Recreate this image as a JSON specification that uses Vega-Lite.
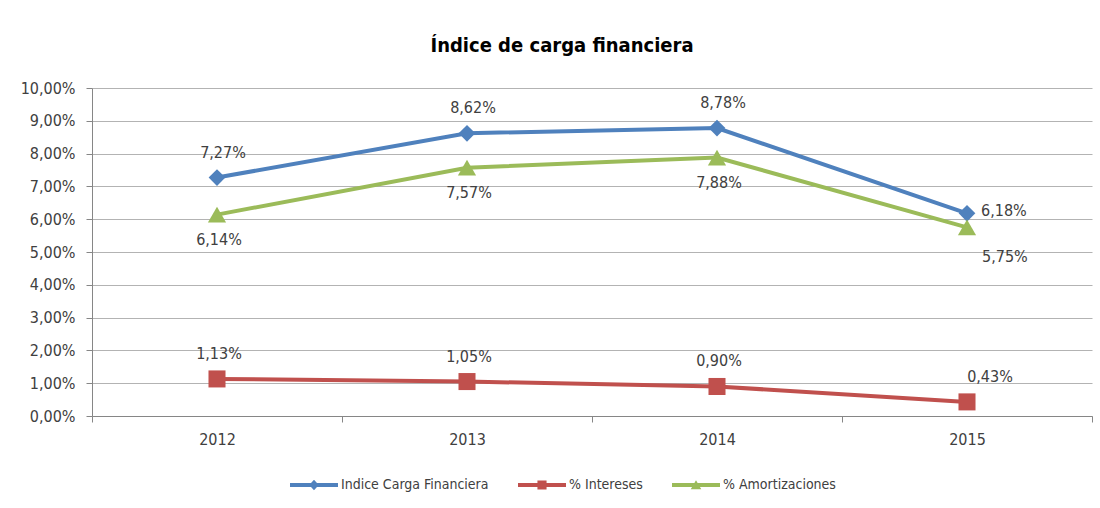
{
  "$schema": "https://vega.github.io/schema/vega-lite/v6.json",
  "autosize": {"type": "none"},
  "width": 1000,
  "height": 328,
  "padding": {"left": 92, "top": 88, "right": 8, "bottom": 92},
  "background": "white",
  "title": {
    "text": "Índice de carga financiera",
    "font": "DejaVu Sans Condensed, Liberation Sans",
    "fontSize": 20,
    "fontWeight": "bold",
    "color": "#000000",
    "anchor": "middle",
    "dx": -30,
    "offset": 24
  },
  "config": {
    "locale": {"number": {"decimal": ",", "thousands": ".", "grouping": [3], "currency": ["", " €"]}},
    "view": {"stroke": null},
    "font": "DejaVu Sans Condensed, Liberation Sans"
  },
  "data": {
    "values": [
      {"year": "2012", "serie": "Indice Carga Financiera", "valor": 0.0727},
      {"year": "2013", "serie": "Indice Carga Financiera", "valor": 0.0862},
      {"year": "2014", "serie": "Indice Carga Financiera", "valor": 0.0878},
      {"year": "2015", "serie": "Indice Carga Financiera", "valor": 0.0618},
      {"year": "2012", "serie": "% Intereses", "valor": 0.0113},
      {"year": "2013", "serie": "% Intereses", "valor": 0.0105},
      {"year": "2014", "serie": "% Intereses", "valor": 0.0090},
      {"year": "2015", "serie": "% Intereses", "valor": 0.0043},
      {"year": "2012", "serie": "% Amortizaciones", "valor": 0.0614},
      {"year": "2013", "serie": "% Amortizaciones", "valor": 0.0757},
      {"year": "2014", "serie": "% Amortizaciones", "valor": 0.0788},
      {"year": "2015", "serie": "% Amortizaciones", "valor": 0.0575}
    ]
  },
  "encoding": {
    "x": {
      "field": "year", "type": "ordinal",
      "scale": {"paddingInner": 0, "paddingOuter": 0},
      "axis": {
        "title": null, "labelAngle": 0, "tickBand": "extent", "grid": false,
        "domainColor": "#868686", "tickColor": "#868686", "tickSize": 6,
        "labelFont": "DejaVu Sans Condensed, Liberation Sans", "labelFontSize": 16, "labelColor": "#404040",
        "labelPadding": 9
      }
    },
    "y": {
      "field": "valor", "type": "quantitative",
      "scale": {"domain": [0, 0.1], "nice": false},
      "axis": {
        "title": null, "format": ".2%", "values": [0,0.01,0.02,0.03,0.04,0.05,0.06,0.07,0.08,0.09,0.1],
        "labelOverlap": false,
        "gridColor": "#B3B3B3", "gridWidth": 1.2,
        "domainColor": "#868686", "tickColor": "#868686", "tickSize": 6,
        "labelFont": "DejaVu Sans Condensed, Liberation Sans", "labelFontSize": 16, "labelColor": "#404040",
        "labelPadding": 11
      }
    }
  },
  "layer": [
    {
      "mark": {"type": "line", "strokeWidth": 4},
      "encoding": {
        "color": {
          "field": "serie", "type": "nominal",
          "scale": {"domain": ["Indice Carga Financiera", "% Intereses", "% Amortizaciones"], "range": ["#4F81BD", "#C0504D", "#9BBB59"]},
          "legend": {
            "orient": "none", "legendX": 198, "legendY": 373,
            "direction": "horizontal", "title": null,
            "symbolSize": 2304, "symbolStrokeWidth": 0,
            "labelFont": "DejaVu Sans Condensed, Liberation Sans", "labelFontSize": 14, "labelColor": "#404040",
            "labelOffset": 3, "columnPadding": 29,
            "encode": {
              "symbols": {
                "update": {
                  "shape": {"signal": "datum.value === 'Indice Carga Financiera' ? 'M-1,-0.08H1V0.08H-1Z M0,-0.22L0.2,0L0,0.22L-0.2,0Z' : (datum.value === '% Intereses' ? 'M-1,-0.08H1V0.08H-1Z M-0.19,-0.19H0.19V0.19H-0.19Z' : 'M-1,-0.08H1V0.08H-1Z M0,-0.2L0.22,0.18H-0.22Z')"},
                  "fill": {"signal": "scale('color', datum.value)"},
                  "fillOpacity": {"value": 1},
                  "stroke": {"value": "transparent"},
                  "strokeWidth": {"value": 0}
                }
              }
            }
          }
        }
      }
    },
    {
      "transform": [{"filter": "datum.serie === 'Indice Carga Financiera'"}],
      "mark": {"type": "point", "filled": true, "opacity": 1, "size": 280, "shape": "diamond"},
      "encoding": {"color": {"field": "serie", "type": "nominal", "legend": null}}
    },
    {
      "transform": [{"filter": "datum.serie === '% Intereses'"}],
      "mark": {"type": "point", "filled": true, "opacity": 1, "size": 290, "shape": "square"},
      "encoding": {"color": {"field": "serie", "type": "nominal", "legend": null}}
    },
    {
      "transform": [{"filter": "datum.serie === '% Amortizaciones'"}],
      "mark": {"type": "point", "filled": true, "opacity": 1, "size": 330, "shape": "triangle-up"},
      "encoding": {"color": {"field": "serie", "type": "nominal", "legend": null}}
    },
    {
      "transform": [{"filter": "datum.serie === 'Indice Carga Financiera' && datum.year !== '2015'"}],
      "mark": {"type": "text", "dx": 6, "dy": -25, "fontSize": 16, "color": "#404040"},
      "encoding": {"text": {"field": "valor", "type": "quantitative", "format": ".2%"}}
    },
    {
      "transform": [{"filter": "datum.serie === 'Indice Carga Financiera' && datum.year === '2015'"}],
      "mark": {"type": "text", "align": "left", "dx": 14, "dy": -2, "fontSize": 16, "color": "#404040"},
      "encoding": {"text": {"field": "valor", "type": "quantitative", "format": ".2%"}}
    },
    {
      "transform": [{"filter": "datum.serie === '% Amortizaciones' && datum.year !== '2015'"}],
      "mark": {"type": "text", "dx": 2, "dy": 25, "fontSize": 16, "color": "#404040"},
      "encoding": {"text": {"field": "valor", "type": "quantitative", "format": ".2%"}}
    },
    {
      "transform": [{"filter": "datum.serie === '% Amortizaciones' && datum.year === '2015'"}],
      "mark": {"type": "text", "align": "left", "dx": 15, "dy": 30, "fontSize": 16, "color": "#404040"},
      "encoding": {"text": {"field": "valor", "type": "quantitative", "format": ".2%"}}
    },
    {
      "transform": [{"filter": "datum.serie === '% Intereses' && datum.year !== '2015'"}],
      "mark": {"type": "text", "dx": 2, "dy": -25, "fontSize": 16, "color": "#404040"},
      "encoding": {"text": {"field": "valor", "type": "quantitative", "format": ".2%"}}
    },
    {
      "transform": [{"filter": "datum.serie === '% Intereses' && datum.year === '2015'"}],
      "mark": {"type": "text", "dx": 23, "dy": -25, "fontSize": 16, "color": "#404040"},
      "encoding": {"text": {"field": "valor", "type": "quantitative", "format": ".2%"}}
    }
  ]
}
